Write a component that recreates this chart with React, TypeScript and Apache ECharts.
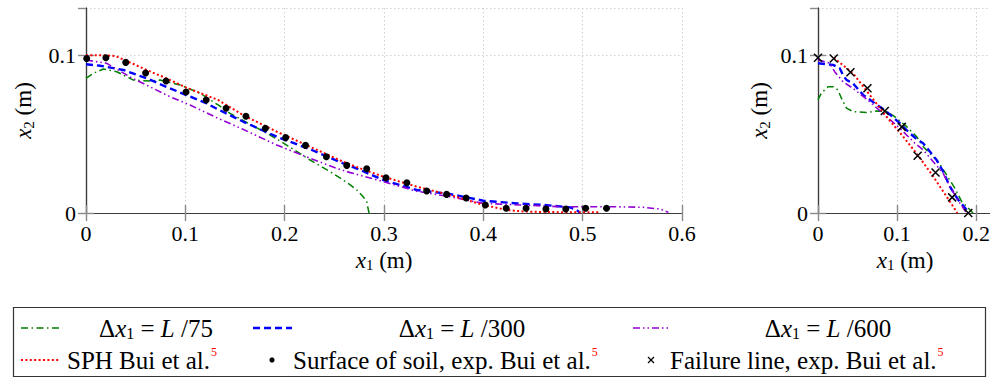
import React, { useEffect, useRef } from "react";
import * as echarts from "echarts";

// ---------- Left plot: free surface (runout) ----------
const soilX = [0.0007, 0.02, 0.04, 0.06, 0.0806, 0.1007, 0.121, 0.141, 0.161, 0.1806, 0.201, 0.221, 0.242, 0.2625, 0.2826, 0.302, 0.323, 0.343, 0.363, 0.3827, 0.402, 0.423, 0.443, 0.463, 0.483, 0.503, 0.524];
const soilY = [0.098, 0.0985, 0.0955, 0.0888, 0.0837, 0.0767, 0.0717, 0.0664, 0.0613, 0.0537, 0.0478, 0.0429, 0.0357, 0.0302, 0.0281, 0.0224, 0.0192, 0.014, 0.0118, 0.0095, 0.0051, 0.003, 0.003, 0.0025, 0.0025, 0.003, 0.003];

const sphLX = [0, 0.02, 0.03, 0.041, 0.061, 0.081, 0.101, 0.133, 0.158, 0.192, 0.2256, 0.259, 0.276, 0.2994, 0.333, 0.3666, 0.4, 0.4237, 0.44, 0.46, 0.49, 0.5176];
const sphLY = [0.1, 0.1, 0.0995, 0.0964, 0.0907, 0.0854, 0.0795, 0.0717, 0.0621, 0.0516, 0.042, 0.0325, 0.0283, 0.023, 0.0167, 0.0114, 0.0051, 0.0019, 0.001, 0.0006, 0.0005, 0.0004];

const d300LX = [0, 0.014, 0.0376, 0.061, 0.081, 0.101, 0.1215, 0.132, 0.158, 0.192, 0.2256, 0.259, 0.276, 0.2994, 0.333, 0.3666, 0.4, 0.4337, 0.4605, 0.4874, 0.494, 0.4975];
const d300LY = [0.0943, 0.0934, 0.0907, 0.0854, 0.08, 0.0748, 0.0695, 0.066, 0.058, 0.0484, 0.0404, 0.0315, 0.0273, 0.0209, 0.0146, 0.012, 0.0078, 0.0061, 0.0051, 0.0036, 0.0019, 0];

const d600LX = [0, 0.021, 0.044, 0.0645, 0.0846, 0.1047, 0.133, 0.158, 0.192, 0.2256, 0.2525, 0.266, 0.2994, 0.333, 0.3666, 0.4, 0.437, 0.4773, 0.5277, 0.561, 0.578, 0.5864];
const d600LY = [0.097, 0.0949, 0.0864, 0.08, 0.0737, 0.0685, 0.06, 0.0531, 0.0431, 0.0347, 0.0283, 0.0256, 0.0199, 0.0138, 0.0103, 0.0061, 0.0051, 0.004, 0.004, 0.0036, 0.0025, 0.0004];

const d75LX = [0, 0.0074, 0.0175, 0.031, 0.0477, 0.0645, 0.0745, 0.0947, 0.115, 0.133, 0.145, 0.185, 0.202, 0.2256, 0.2457, 0.259, 0.266, 0.2726, 0.279, 0.2826, 0.2843, 0.285];
const d75LY = [0.0854, 0.0886, 0.0913, 0.0896, 0.0843, 0.0837, 0.0843, 0.0812, 0.0759, 0.0685, 0.0632, 0.0495, 0.0431, 0.0336, 0.0262, 0.0209, 0.0178, 0.0146, 0.0103, 0.0072, 0.0019, 0];

// ---------- Right plot: failure line ----------
const failX = [0, 0.0199, 0.041, 0.0625, 0.0844, 0.106, 0.126, 0.1486, 0.1696, 0.19];
const failY = [0.0985, 0.098, 0.0892, 0.0791, 0.0647, 0.0546, 0.0363, 0.0257, 0.0099, 0];

const sphRX = [0.0199, 0.0443, 0.0654, 0.0866, 0.1076, 0.1266, 0.1456, 0.1625, 0.175, 0.176];
const sphRY = [0.0985, 0.0886, 0.0749, 0.0611, 0.0485, 0.0365, 0.0232, 0.0105, 0.001, 0];

const d300RX = [0, 0.019, 0.0275, 0.0316, 0.036, 0.0443, 0.057, 0.0718, 0.0866, 0.1034, 0.116, 0.1245, 0.1329, 0.1498, 0.1582, 0.1667, 0.1772, 0.1878, 0.19];
const d300RY = [0.095, 0.0939, 0.0918, 0.0875, 0.0844, 0.0822, 0.0749, 0.0696, 0.0643, 0.057, 0.0506, 0.047, 0.0443, 0.0337, 0.0263, 0.0168, 0.0084, 0.0021, 0];

const d600RX = [0, 0.0148, 0.0211, 0.0316, 0.0443, 0.0654, 0.0866, 0.1034, 0.1224, 0.1329, 0.1582, 0.1667, 0.1794, 0.1878];
const d600RY = [0.0971, 0.095, 0.0896, 0.0833, 0.079, 0.0706, 0.0611, 0.0538, 0.0443, 0.04, 0.0253, 0.0168, 0.0063, 0];

const d75RX = [0, 0.0042, 0.0127, 0.019, 0.0253, 0.0296, 0.036, 0.0443, 0.0612, 0.074, 0.0866, 0.097, 0.112, 0.1245, 0.1329, 0.139, 0.1519, 0.173, 0.1815, 0.196];
const d75RY = [0.0717, 0.076, 0.0801, 0.0801, 0.078, 0.0728, 0.0665, 0.0643, 0.0637, 0.0647, 0.0643, 0.0611, 0.0548, 0.0485, 0.0422, 0.039, 0.0327, 0.0158, 0.0074, 0];

// axis ranges / ticks
const leftXMax = 0.6;
const rightXMax = 0.22;
const yMax = 0.13;
const tickStep = 0.1;

const legendNames = ["L /75", "L /300", "L /600", "SPH Bui et al.", "Surface of soil, exp. Bui et al.", "Failure line, exp. Bui et al."];

const pair = (xs: number[], ys: number[]) => xs.map((x, i) => [x, ys[i]]);

const FONT = "'Liberation Serif', 'Times New Roman', serif";
const FRAME = "#3c3c3c";
const TICK = "#8a8a8a";
const GRID = "#cfcfcf";

const C75 = "#008000";
const C300 = "#0000ff";
const C600 = "#9400d3";
const CSPH = "#ff0000";

const DASH75 = [7, 3.5, 1.5, 3.5];
const DASH300 = [7, 4];
const DASH600 = [7, 3, 1.5, 3, 1.5, 3];
const DASHSPH = [2, 2.4];

const nameRich = {
  i: { fontStyle: "italic", fontFamily: FONT, fontSize: 23, color: "#000" },
  s: { fontFamily: FONT, fontSize: 15, color: "#000", padding: [10, 0, 0, 0] },
};

function mainX(grid: number, max: number) {
  return {
    type: "value",
    gridIndex: grid,
    min: 0,
    max,
    interval: tickStep,
    position: "bottom",
    name: "{i|x}{s|1} (m)",
    nameLocation: "middle",
    nameGap: 31,
    nameTextStyle: { fontFamily: FONT, fontSize: 23, color: "#000", rich: nameRich },
    axisLine: { show: true, lineStyle: { color: FRAME, width: 1.2 } },
    axisTick: { show: true, inside: true, length: 8, lineStyle: { color: TICK, width: 1.4 } },
    axisLabel: { fontFamily: FONT, fontSize: 22, color: "#000", margin: 9, showMaxLabel: max === leftXMax },
    splitLine: { show: true, lineStyle: { color: GRID, width: 1, type: [1.5, 2.5] } },
  };
}
function topX(grid: number, max: number) {
  return {
    type: "value",
    gridIndex: grid,
    min: 0,
    max,
    interval: tickStep,
    position: "top",
    axisLine: { show: true, lineStyle: { color: FRAME, width: 1.2 } },
    axisTick: { show: true, inside: true, length: 8, lineStyle: { color: TICK, width: 1.4 } },
    axisLabel: { show: false },
    splitLine: { show: false },
  };
}
function mainY(grid: number, gap: number) {
  return {
    type: "value",
    gridIndex: grid,
    min: 0,
    max: yMax,
    interval: tickStep,
    position: "left",
    name: "{i|x}{s|2} (m)",
    nameLocation: "middle",
    nameGap: gap,
    nameRotate: 90,
    nameTextStyle: { fontFamily: FONT, fontSize: 23, color: "#000", rich: nameRich },
    axisLine: { show: true, lineStyle: { color: FRAME, width: 1.2 } },
    axisTick: { show: true, inside: true, length: 8, lineStyle: { color: TICK, width: 1.4 } },
    axisLabel: { fontFamily: FONT, fontSize: 22, color: "#000", margin: 10, showMaxLabel: false },
    splitLine: { show: true, lineStyle: { color: GRID, width: 1, type: [1.5, 2.5] } },
  };
}
function rightY(grid: number) {
  return {
    type: "value",
    gridIndex: grid,
    min: 0,
    max: yMax,
    interval: tickStep,
    position: "right",
    axisLine: { show: true, lineStyle: { color: FRAME, width: 1.2 } },
    axisTick: { show: true, inside: true, length: 8, lineStyle: { color: TICK, width: 1.4 } },
    axisLabel: { show: false },
    splitLine: { show: false },
  };
}

function lineSeries(name: string, xi: number, xs: number[], ys: number[], color: string, dash: number[], width: number) {
  return {
    name,
    type: "line",
    xAxisIndex: xi,
    yAxisIndex: xi,
    data: pair(xs, ys),
    showSymbol: false,
    symbol: "none",
    smooth: false,
    lineStyle: { color, width, type: dash },
    z: 3,
  };
}

const LF = 25;
const subRich = {
  n: { fontFamily: FONT, fontSize: LF, fill: "#000" },
  i: { fontFamily: FONT, fontSize: LF, fontStyle: "italic", fill: "#000" },
  s: { fontFamily: FONT, fontSize: 16, fill: "#000", padding: [11, 0, 0, 0] },
  sup: { fontFamily: FONT, fontSize: 12, fill: "#ff0000", padding: [0, 0, 16, 1] },
};

function deltaText(cx: number, cy: number, tail: string) {
  return {
    type: "text",
    x: cx,
    y: cy,
    style: {
      text: `{n|Δ}{i|x}{s|1}{n| = }{i|L}{n| ${tail}}`,
      rich: subRich,
      align: "center",
      verticalAlign: "middle",
      fontFamily: FONT,
      fontSize: LF,
    },
  };
}
function refText(lx: number, cy: number, label: string) {
  return {
    type: "text",
    x: lx,
    y: cy,
    style: {
      text: `{n|${label}}{sup|5}`,
      rich: subRich,
      align: "left",
      verticalAlign: "middle",
      fontFamily: FONT,
      fontSize: LF,
    },
  };
}
function sample(x1: number, x2: number, y: number, color: string, dash: number[], width: number) {
  return { type: "line", shape: { x1, y1: y, x2, y2: y }, style: { stroke: color, lineWidth: width, lineDash: dash } };
}

export default function App() {
  const ref = useRef<HTMLDivElement>(null);
  useEffect(() => {
    if (!ref.current) return;
    const chart = echarts.init(ref.current, null, { renderer: "svg" });
    const r1 = 328;
    const r2 = 360;
    const option: any = {
      animation: false,
      backgroundColor: "#fff",
      grid: [
        { left: 86, top: 8, width: 596, height: 205 },
        { left: 818, top: 8, width: 174, height: 205 },
      ],
      xAxis: [mainX(0, leftXMax), mainX(1, rightXMax), topX(0, leftXMax), topX(1, rightXMax)],
      yAxis: [mainY(0, 50), mainY(1, 46), rightY(0), rightY(1)],
      series: [
        lineSeries(legendNames[0], 0, d75LX, d75LY, C75, DASH75, 1.5),
        lineSeries(legendNames[1], 0, d300LX, d300LY, C300, DASH300, 2.4),
        lineSeries(legendNames[2], 0, d600LX, d600LY, C600, DASH600, 1.6),
        lineSeries(legendNames[3], 0, sphLX, sphLY, CSPH, DASHSPH, 2),
        {
          name: legendNames[4],
          type: "scatter",
          xAxisIndex: 0,
          yAxisIndex: 0,
          data: pair(soilX, soilY),
          symbol: "circle",
          symbolSize: 7,
          itemStyle: { color: "#000", opacity: 1 },
          z: 5,
        },
        lineSeries(legendNames[0], 1, d75RX, d75RY, C75, DASH75, 1.5),
        lineSeries(legendNames[1], 1, d300RX, d300RY, C300, DASH300, 2.4),
        lineSeries(legendNames[2], 1, d600RX, d600RY, C600, DASH600, 1.6),
        lineSeries(legendNames[3], 1, sphRX, sphRY, CSPH, DASHSPH, 2),
        {
          name: legendNames[5],
          type: "scatter",
          xAxisIndex: 1,
          yAxisIndex: 1,
          data: pair(failX, failY),
          symbol: "path://M0 0L10 10M10 0L0 10",
          symbolSize: 8,
          itemStyle: { color: "none", borderColor: "#000", borderWidth: 1.5, opacity: 1 },
          z: 5,
        },
      ],
      graphic: [
        {
          type: "rect",
          shape: { x: 13.5, y: 307.5, width: 972, height: 69 },
          style: { fill: "none", stroke: "#333", lineWidth: 1.2 },
        },
        sample(21, 60, r1, C75, DASH75, 1.5),
        deltaText(156, r1, "/75"),
        sample(253, 292, r1, C300, DASH300, 2.4),
        deltaText(462, r1, "/300"),
        sample(633, 668, r1, C600, DASH600, 1.6),
        deltaText(828, r1, "/600"),
        sample(21, 60, r2, CSPH, DASHSPH, 2),
        refText(67, r2, legendNames[3]),
        { type: "circle", shape: { cx: 272, cy: r2, r: 2.6 }, style: { fill: "#000" } },
        refText(293, r2, legendNames[4]),
        { type: "line", shape: { x1: 648, y1: r2 - 3, x2: 654, y2: r2 + 3 }, style: { stroke: "#000", lineWidth: 1.3 } },
        { type: "line", shape: { x1: 648, y1: r2 + 3, x2: 654, y2: r2 - 3 }, style: { stroke: "#000", lineWidth: 1.3 } },
        refText(670, r2, legendNames[5]),
      ],
    };
    chart.setOption(option);
    return () => chart.dispose();
  }, []);
  return (
    <div style={{ position: "fixed", left: 0, top: 0, width: 990, height: 378, overflow: "hidden", background: "#fff" }}>
      <div ref={ref} style={{ width: 1000, height: 378 }} />
    </div>
  );
}
